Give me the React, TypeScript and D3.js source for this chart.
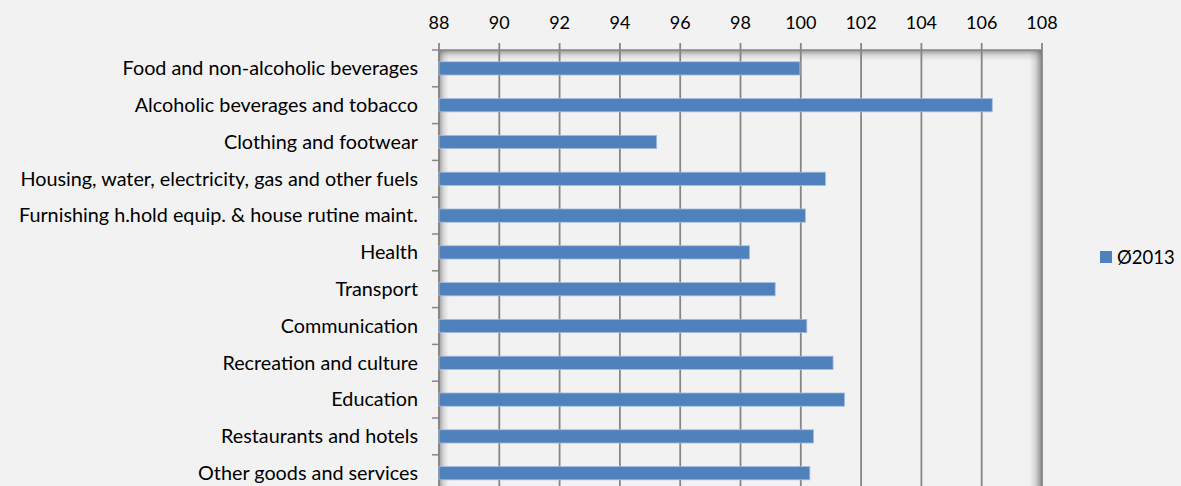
import React from "react";
import * as d3 from "d3";

const categories = [
  "Food and non-alcoholic beverages",
  "Alcoholic beverages and tobacco",
  "Clothing and footwear",
  "Housing, water, electricity, gas and other fuels",
  "Furnishing h.hold equip. & house rutine maint.",
  "Health",
  "Transport",
  "Communication",
  "Recreation and culture",
  "Education",
  "Restaurants and hotels",
  "Other goods and services",
];
const values2013 = [99.97, 106.35, 95.22, 100.82, 100.15, 98.3, 99.15, 100.2, 101.07, 101.45, 100.42, 100.3];
const xTicks = [88, 90, 92, 94, 96, 98, 100, 102, 104, 106, 108];
const seriesName = "Ø2013";

const W = 1181;
const H = 486;
const left = 439;
const right = 1042;
const top = 50;
const band = 36.8;

export default function App() {
  const x = d3.scaleLinear().domain([88, 108]).range([left, right]);
  const y = d3
    .scaleBand<string>()
    .domain(categories)
    .range([top, top + band * categories.length])
    .paddingInner(0.64)
    .paddingOuter(0.32);
  const bottom = top + band * categories.length;
  const font = "Lato, 'Open Sans', sans-serif";
  return (
    <svg width={W} height={H} style={{ position: "absolute", left: 0, top: 0, display: "block" }}>
      <defs>
        <linearGradient id="gTop" x1="0" y1="0" x2="0" y2="1">
          <stop offset="0" stopColor="#555" stopOpacity="0.6" />
          <stop offset="0.5" stopColor="#777" stopOpacity="0.2" />
          <stop offset="1" stopColor="#888" stopOpacity="0" />
        </linearGradient>
        <linearGradient id="gLeft" x1="0" y1="0" x2="1" y2="0">
          <stop offset="0" stopColor="#555" stopOpacity="0.55" />
          <stop offset="0.5" stopColor="#777" stopOpacity="0.2" />
          <stop offset="1" stopColor="#888" stopOpacity="0" />
        </linearGradient>
        <linearGradient id="gRight" x1="1" y1="0" x2="0" y2="0">
          <stop offset="0" stopColor="#555" stopOpacity="0.7" />
          <stop offset="0.5" stopColor="#777" stopOpacity="0.25" />
          <stop offset="1" stopColor="#888" stopOpacity="0" />
        </linearGradient>
      </defs>
      <rect x={0} y={0} width={W} height={H} fill="#f2f2f2" />
      <rect x={left} y={top} width={right - left} height={bottom - top} fill="#f2f2f2" />
      <rect x={left} y={top} width={right - left} height={11} fill="url(#gTop)" />
      <rect x={left} y={top} width={10} height={bottom - top} fill="url(#gLeft)" />
      <rect x={right - 13} y={top} width={13} height={bottom - top} fill="url(#gRight)" />
      {xTicks.map((t) => (
        <g key={t}>
          <line x1={x(t)} x2={x(t)} y1={top - 7} y2={bottom} stroke="#868686" strokeWidth={1.8} />
          <text x={x(t)} y={29} textAnchor="middle" fontFamily={font} fontSize={18} fill="#000">
            {t}
          </text>
        </g>
      ))}
      <line x1={left} x2={right} y1={top} y2={top} stroke="#868686" strokeWidth={1.5} />
      <line x1={left} x2={left} y1={top} y2={bottom} stroke="#868686" strokeWidth={1.5} />
      {d3.range(categories.length + 1).map((i) => (
        <line key={i} x1={left - 7} x2={left} y1={top + i * band} y2={top + i * band} stroke="#868686" strokeWidth={1.5} />
      ))}
      {categories.map((c, i) => (
        <g key={c}>
          <rect
            x={x(88)}
            y={y(c)!}
            width={x(values2013[i]) - x(88)}
            height={y.bandwidth()}
            fill="#4f81bd"
            stroke="#a5bddd"
            strokeWidth={0.8}
          />
          <text
            x={418}
            y={y(c)! + y.bandwidth() / 2}
            dy="0.34em"
            textAnchor="end"
            fontFamily={font}
            fontSize={19.8}
            fill="#000"
          >
            {c}
          </text>
        </g>
      ))}
      <rect x={1100} y={251} width={12} height={12} fill="#4f81bd" />
      <text x={1117} y={257} dy="0.36em" fontFamily={font} fontSize={18.5} fill="#000">
        {seriesName}
      </text>
    </svg>
  );
}
